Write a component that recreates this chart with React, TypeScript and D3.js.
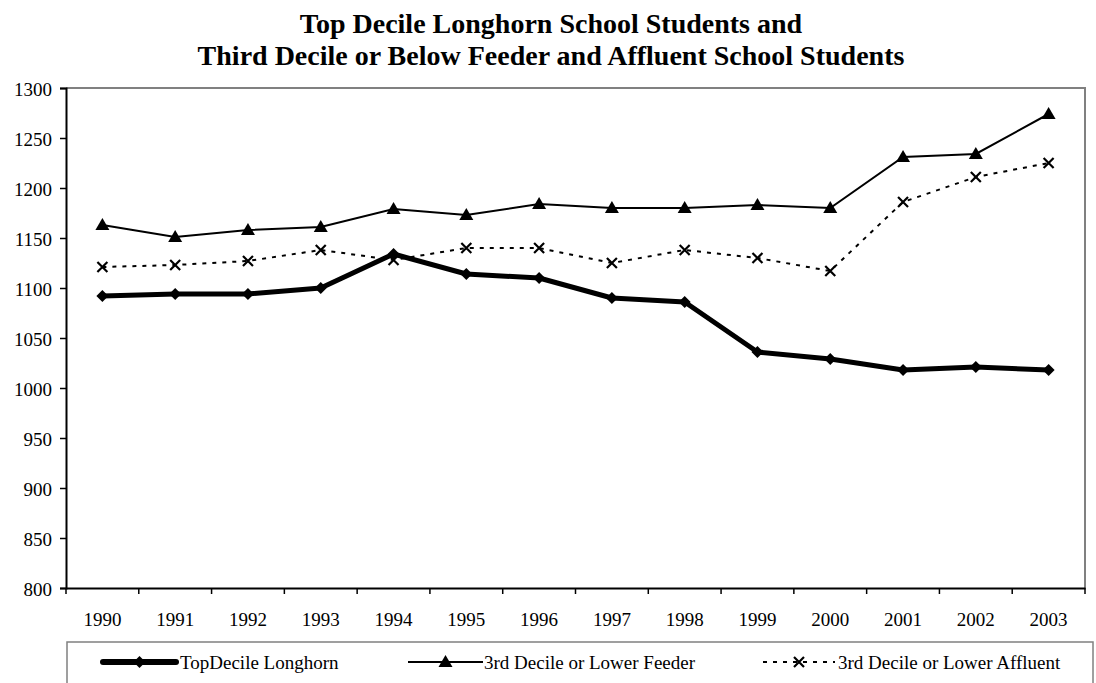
import React, { useEffect, useRef } from 'react';
import * as d3 from 'd3';

const years = ['1990', '1991', '1992', '1993', '1994', '1995', '1996', '1997', '1998', '1999', '2000', '2001', '2002', '2003'];
const topDecile = [1092, 1094, 1094, 1100, 1134, 1114, 1110, 1090, 1086, 1036, 1029, 1018, 1021, 1018];
const feeder = [1163, 1151, 1158, 1161, 1179, 1173, 1184, 1180, 1180, 1183, 1180, 1231, 1234, 1274];
const affluent = [1121, 1123, 1127, 1138, 1128, 1140, 1140, 1125, 1138, 1130, 1117, 1186, 1211, 1225];
const yTicks = [800, 850, 900, 950, 1000, 1050, 1100, 1150, 1200, 1250, 1300];
const seriesNames = ['TopDecile Longhorn', '3rd Decile or Lower Feeder', '3rd Decile or Lower Affluent'];
const titleLines = ['Top Decile Longhorn School Students and', 'Third Decile or Below Feeder and Affluent School Students'];

const FONT = '"Liberation Serif", "Times New Roman", serif';

const App: React.FC = () => {
  const svgRef = useRef<SVGSVGElement | null>(null);

  useEffect(() => {
    if (!svgRef.current) return;
    const W = 1096;
    const H = 683;
    const left = 66, right = 1085, top = 88, bottom = 588;

    const svg = d3.select(svgRef.current);
    svg.selectAll('*').remove();
    svg.attr('width', W).attr('height', H).style('background', '#fff').style('font-family', FONT);

    // title
    titleLines.forEach((t, i) => {
      svg.append('text').attr('x', 551).attr('y', 33 + i * 32).attr('text-anchor', 'middle')
        .style('font-family', FONT).style('font-size', '28px').style('font-weight', 'bold').text(t);
    });

    const x = d3.scaleBand().domain(years).range([left, right]);
    const y = d3.scaleLinear().domain([800, 1300]).range([bottom, top]);
    const cx = (d: string) => x(d)! + x.bandwidth() / 2;

    // plot border (top & right grey)
    svg.append('path')
      .attr('d', `M${left},${top}H${right}V${bottom}`)
      .attr('fill', 'none').attr('stroke', '#808080').attr('stroke-width', 2);

    // y axis
    const yAxis = d3.axisLeft(y).tickValues(yTicks).tickSize(6).tickPadding(8).tickFormat(d3.format('d'));
    const yG = svg.append('g').attr('transform', `translate(${left},0)`).call(yAxis);
    yG.attr('font-family', null).attr('font-size', null);
    yG.select('.domain').attr('stroke', '#000').attr('stroke-width', 2);
    yG.selectAll('.tick line').attr('stroke', '#000').attr('stroke-width', 1.5);
    yG.selectAll('.tick text').attr('dy', 7).style('font-size', '19px').style('font-family', FONT).attr('fill', '#000');

    // x axis
    const xAxis = d3.axisBottom(x).tickSize(0);
    const xG = svg.append('g').attr('transform', `translate(0,${bottom})`).call(xAxis);
    xG.attr('font-family', null).attr('font-size', null);
    xG.select('.domain').attr('stroke', '#000').attr('stroke-width', 2);
    xG.selectAll('.tick text').attr('y', 38).attr('dy', 0).style('font-size', '19px').style('font-family', FONT).attr('fill', '#000');
    // category boundary ticks
    svg.append('g').selectAll('line').data(d3.range(years.length + 1)).enter().append('line')
      .attr('x1', (i) => left + i * x.bandwidth()).attr('x2', (i) => left + i * x.bandwidth())
      .attr('y1', bottom).attr('y2', bottom + 6).attr('stroke', '#000').attr('stroke-width', 1.5);

    const line = d3.line<number>().x((_, i) => cx(years[i])).y((d) => y(d));

    const diamond = (g: d3.Selection<any, any, any, any>, px: number, py: number) =>
      g.append('path').attr('d', `M${px},${py - 6}L${px + 6},${py}L${px},${py + 6}L${px - 6},${py}Z`).attr('fill', '#000');
    const triangle = (g: d3.Selection<any, any, any, any>, px: number, py: number) =>
      g.append('path').attr('d', `M${px},${py - 7}L${px + 7},${py + 5}L${px - 7},${py + 5}Z`).attr('fill', '#000');
    const cross = (g: d3.Selection<any, any, any, any>, px: number, py: number) =>
      g.append('path').attr('d', `M${px - 5},${py - 5}L${px + 5},${py + 5}M${px + 5},${py - 5}L${px - 5},${py + 5}`)
        .attr('stroke', '#000').attr('stroke-width', 2.2).attr('fill', 'none');

    // feeder
    const gF = svg.append('g');
    gF.append('path').attr('d', line(feeder)!).attr('fill', 'none').attr('stroke', '#000').attr('stroke-width', 2);
    feeder.forEach((v, i) => triangle(gF, cx(years[i]), y(v)));

    // affluent
    const gA = svg.append('g');
    gA.append('path').attr('d', line(affluent)!).attr('fill', 'none').attr('stroke', '#000')
      .attr('stroke-width', 2).attr('stroke-dasharray', '4,6');
    affluent.forEach((v, i) => cross(gA, cx(years[i]), y(v)));

    // top decile
    const gT = svg.append('g');
    gT.append('path').attr('d', line(topDecile)!).attr('fill', 'none').attr('stroke', '#000')
      .attr('stroke-width', 5).attr('stroke-linejoin', 'round');
    topDecile.forEach((v, i) => diamond(gT, cx(years[i]), y(v)));

    // legend
    const lg = svg.append('g');
    lg.append('rect').attr('x', 67).attr('y', 642).attr('width', 1026).attr('height', 60)
      .attr('fill', '#fff').attr('stroke', '#808080').attr('stroke-width', 1.5);
    const ly = 662;
    const items = [
      { x1: 103, x2: 176, tx: 180 },
      { x1: 408, x2: 483, tx: 484 },
      { x1: 763, x2: 835, tx: 838 },
    ];
    lg.append('line').attr('x1', items[0].x1).attr('x2', items[0].x2).attr('y1', ly).attr('y2', ly)
      .attr('stroke', '#000').attr('stroke-width', 6).attr('stroke-linecap', 'round');
    diamond(lg, (items[0].x1 + items[0].x2) / 2, ly);
    lg.append('line').attr('x1', items[1].x1).attr('x2', items[1].x2).attr('y1', ly).attr('y2', ly)
      .attr('stroke', '#000').attr('stroke-width', 2);
    triangle(lg, (items[1].x1 + items[1].x2) / 2, ly);
    lg.append('line').attr('x1', items[2].x1).attr('x2', items[2].x2).attr('y1', ly).attr('y2', ly)
      .attr('stroke', '#000').attr('stroke-width', 2).attr('stroke-dasharray', '4,6');
    cross(lg, (items[2].x1 + items[2].x2) / 2, ly);
    items.forEach((it, i) => {
      lg.append('text').attr('x', it.tx).attr('y', ly + 7).style('font-size', '19px')
        .style('font-family', FONT).attr('fill', '#000').text(seriesNames[i]);
    });
  }, []);

  return <svg ref={svgRef} style={{ position: 'absolute', left: 0, top: 0 }} />;
};

export default App;
